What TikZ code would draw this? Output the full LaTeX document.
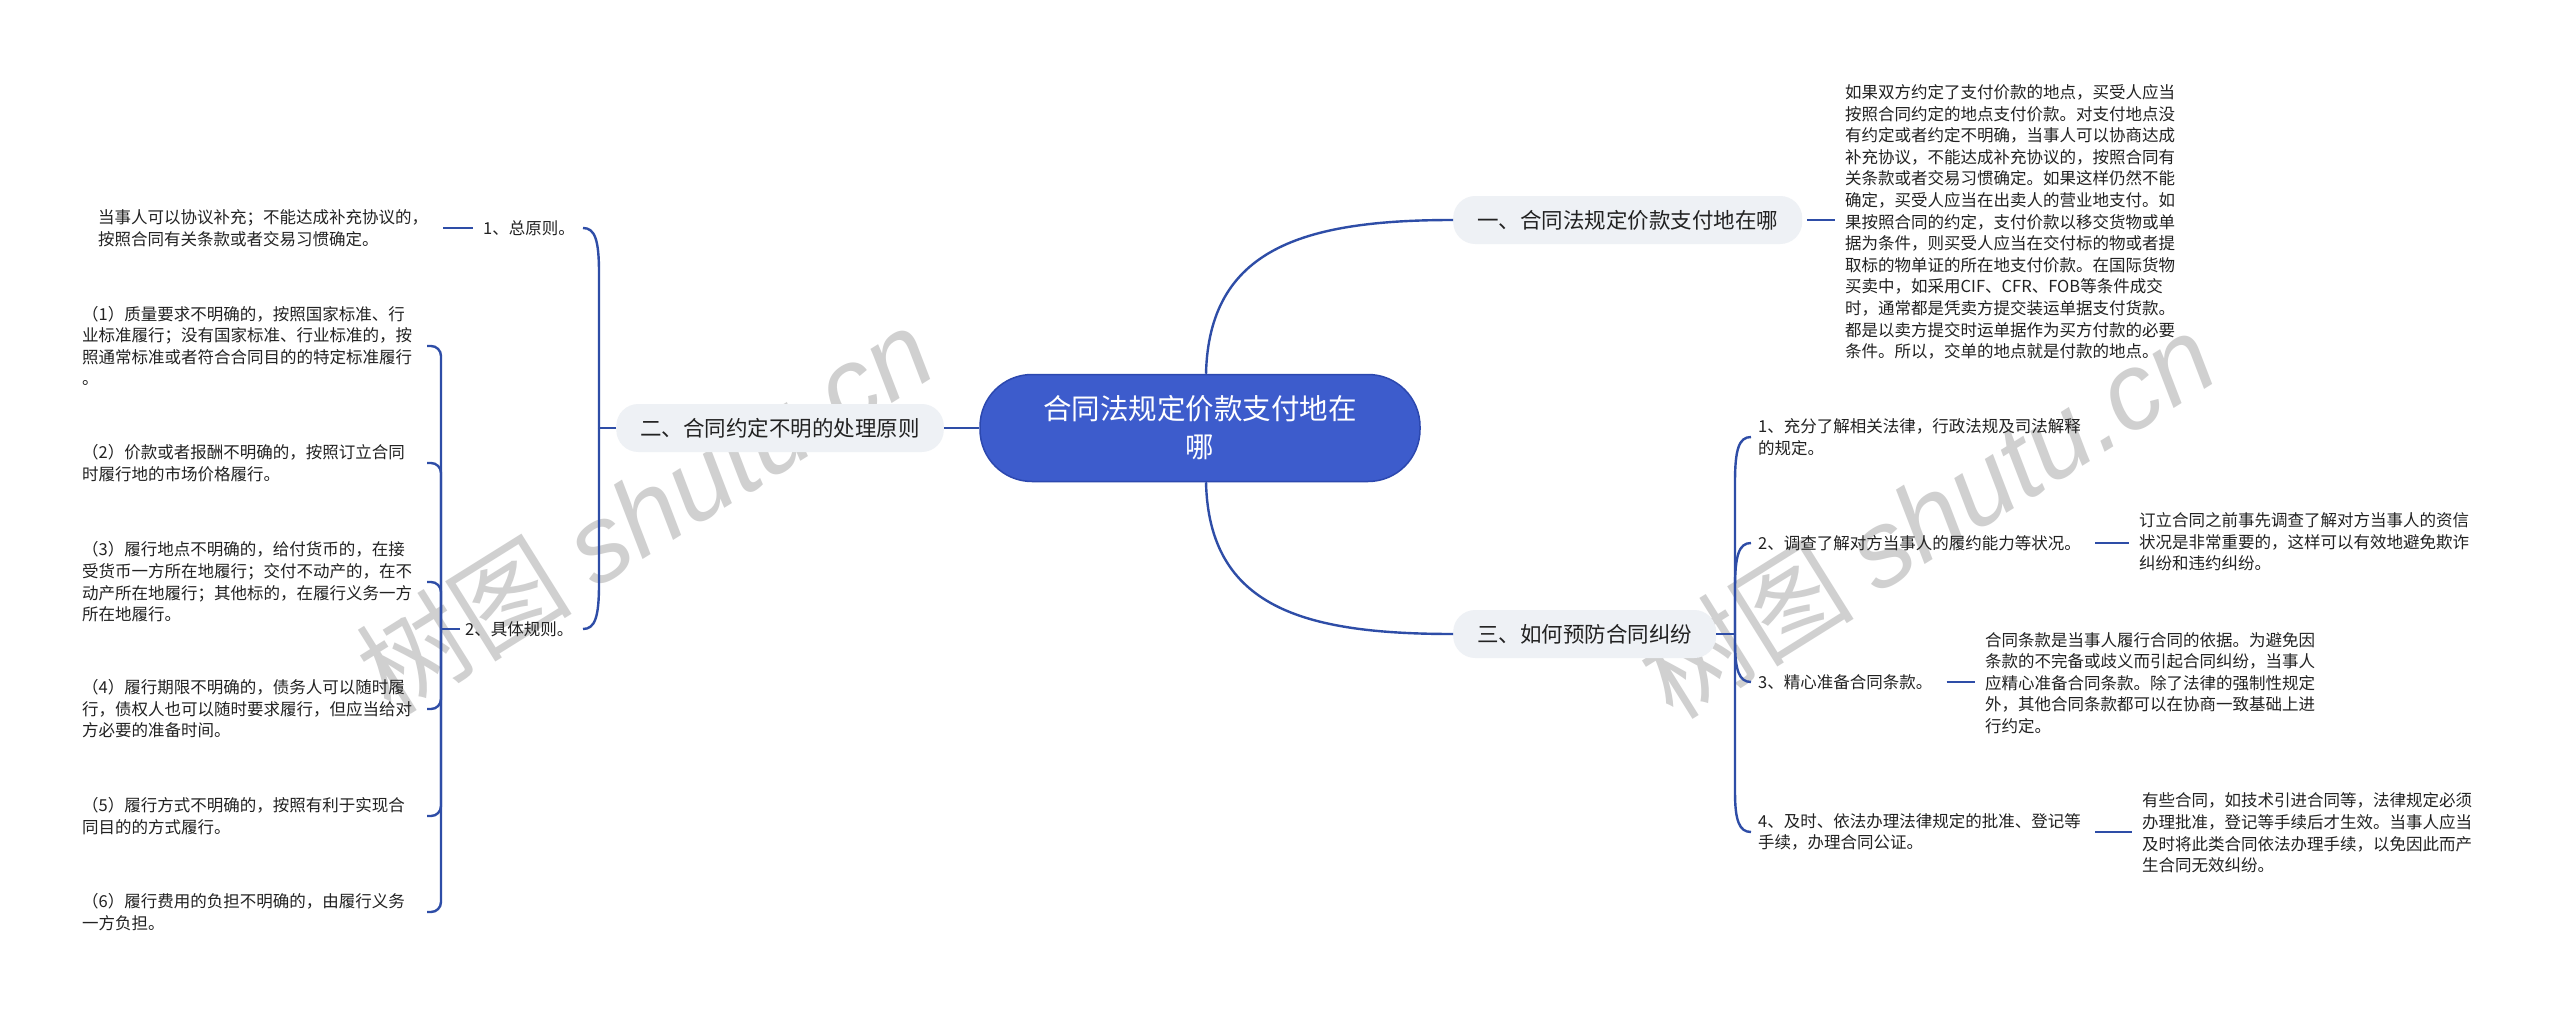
\documentclass[tikz,border=0pt]{standalone}
\usepackage{fontspec}
\setmainfont{Noto Sans CJK SC}
\newfontfamily\wmfont{Liberation Sans}
\usetikzlibrary{calc}
\definecolor{linec}{RGB}{46,77,167}
\definecolor{rootc}{RGB}{61,92,204}
\definecolor{rootd}{RGB}{44,72,175}
\definecolor{boxc}{RGB}{238,241,245}
\definecolor{txt}{RGB}{34,34,34}
\definecolor{wmc}{RGB}{200,200,200}
\begin{document}
\begin{tikzpicture}[x=1pt,y=-1pt,
  small/.style={font=\fontsize{16.5}{21.6}\selectfont, align=left, inner sep=0pt, text=txt},
  branch/.style={fill=boxc, rounded corners=22pt, inner xsep=24pt, inner ysep=0pt, minimum height=48pt, font=\fontsize{21.5}{26}\selectfont, text=txt},
  root/.style={fill=rootc, draw=rootd, line width=1.5pt, rounded corners=52pt, minimum width=440pt, minimum height=107pt, font=\fontsize{28.5}{38}\selectfont, text=white, align=center},
  conn/.style={draw=linec, line width=2.4pt},
  wm/.style={text=wmc, opacity=0.85, rotate=32, font=\fontsize{108}{116}\selectfont, inner sep=0pt}]
\useasboundingbox (0,0) rectangle (2560,1014);
\fill[white] (0,0) rectangle (2560,1014);

% watermarks
\node[wm] (W1) at (645,510) {树图 {\wmfont\itshape shutu.cn}};
\node[wm] (W2) at (1927,515) {树图 {\wmfont\itshape shutu.cn}};

% root and branches
\node[root] (C) at (1200,428) {合同法规定价款支付地在\\哪};
\node[branch, anchor=west] (B1) at (1453,220) {一、合同法规定价款支付地在哪};
\node[branch, anchor=east] (B2) at (944,428) {二、合同约定不明的处理原则};
\node[branch, anchor=west] (B3) at (1453,634) {三、如何预防合同纠纷};

% branch one detail
\node[small, anchor=west] (D1) at (1845,222) {如果双方约定了支付价款的地点，买受人应当\\按照合同约定的地点支付价款。对支付地点没\\有约定或者约定不明确，当事人可以协商达成\\补充协议，不能达成补充协议的，按照合同有\\关条款或者交易习惯确定。如果这样仍然不能\\确定，买受人应当在出卖人的营业地支付。如\\果按照合同的约定，支付价款以移交货物或单\\据为条件，则买受人应当在交付标的物或者提\\取标的物单证的所在地支付价款。在国际货物\\买卖中，如采用CIF、CFR、FOB等条件成交\\时，通常都是凭卖方提交装运单据支付货款。\\都是以卖方提交时运单据作为买方付款的必要\\条件。所以，交单的地点就是付款的地点。};

% branch two
\node[small, anchor=west] (L1) at (483,228) {1、总原则。};
\node[small, anchor=west] (L2) at (465,629) {2、具体规则。};
\node[small, anchor=west] (T0) at (98,228) {当事人可以协议补充；不能达成补充协议的，\\按照合同有关条款或者交易习惯确定。};
\node[small, anchor=west] (K1) at (82,346) {（1）质量要求不明确的，按照国家标准、行\\业标准履行；没有国家标准、行业标准的，按\\照通常标准或者符合合同目的的特定标准履行\\。};
\node[small, anchor=west] (K2) at (82,463) {（2）价款或者报酬不明确的，按照订立合同\\时履行地的市场价格履行。};
\node[small, anchor=west] (K3) at (82,582) {（3）履行地点不明确的，给付货币的，在接\\受货币一方所在地履行；交付不动产的，在不\\动产所在地履行；其他标的，在履行义务一方\\所在地履行。};
\node[small, anchor=west] (K4) at (82,709) {（4）履行期限不明确的，债务人可以随时履\\行，债权人也可以随时要求履行，但应当给对\\方必要的准备时间。};
\node[small, anchor=west] (K5) at (82,816) {（5）履行方式不明确的，按照有利于实现合\\同目的的方式履行。};
\node[small, anchor=west] (K6) at (82,912) {（6）履行费用的负担不明确的，由履行义务\\一方负担。};

% branch three
\node[small, anchor=west] (R1) at (1758,437) {1、充分了解相关法律，行政法规及司法解释\\的规定。};
\node[small, anchor=west] (R2) at (1758,543) {2、调查了解对方当事人的履约能力等状况。};
\node[small, anchor=west] (R3) at (1758,682) {3、精心准备合同条款。};
\node[small, anchor=west] (R4) at (1758,832) {4、及时、依法办理法律规定的批准、登记等\\手续，办理合同公证。};
\node[small, anchor=west] (D2) at (2139,542) {订立合同之前事先调查了解对方当事人的资信\\状况是非常重要的，这样可以有效地避免欺诈\\纠纷和违约纠纷。};
\node[small, anchor=west] (D3) at (1985,683) {合同条款是当事人履行合同的依据。为避免因\\条款的不完备或歧义而引起合同纠纷，当事人\\应精心准备合同条款。除了法律的强制性规定\\外，其他合同条款都可以在协商一致基础上进\\行约定。};
\node[small, anchor=west] (D4) at (2142,833) {有些合同，如技术引进合同等，法律规定必须\\办理批准，登记等手续后才生效。当事人应当\\及时将此类合同依法办理手续，以免因此而产\\生合同无效纠纷。};

% junctions
\coordinate (J2) at (599,428);
\coordinate (J3) at (441,629);
\coordinate (J4) at (1735,634);

% root connectors
\draw[conn] ($(C.north)+(6,0)$) .. controls ($(C.north)+(9,-125)$) and ($(B1.west)+(-150,0)$) .. (B1.west);
\draw[conn] ($(C.south)+(6,0)$) .. controls ($(C.south)+(9,125)$) and ($(B3.west)+(-150,0)$) .. (B3.west);
\draw[conn] (C.west) -- (B2.east);

% branch one
\draw[conn, shorten <=5pt, shorten >=10pt] (B1.east) -- (B1.east -| D1.west);

% branch two bracket
\draw[conn] (B2.west) -- (J2);
\draw[conn] (J2) -- ($(J2|-L1)+(0,45)$) .. controls ($(J2|-L1)+(0,12)$) and ($(J2|-L1)+(-4,0)$) .. ($(J2|-L1)+(-16,0)$);
\draw[conn] (J2) -- ($(J2|-L2)+(0,-45)$) .. controls ($(J2|-L2)+(0,-12)$) and ($(J2|-L2)+(-4,0)$) .. ($(J2|-L2)+(-16,0)$);
\draw[conn, shorten <=15pt, shorten >=10pt] (T0.east) -- (T0.east -| L1.west);

% specific rules bracket
\draw[conn, shorten <=5pt] (L2.west) -- (J3);
\foreach \k in {K1,K2,K3,K4,K5,K6}{
  \draw[conn, rounded corners=10pt] (J3) |- ($(J3|-\k)+(-14,0)$);
}

% branch three bracket
\draw[conn] (B3.east) -- (J4);
\foreach \r in {R1,R2}{
  \draw[conn] (J4) -- ($(J4|-\r)+(0,45)$) .. controls ($(J4|-\r)+(0,12)$) and ($(J4|-\r)+(4,0)$) .. ($(J4|-\r)+(16,0)$);
}
\foreach \r in {R3,R4}{
  \draw[conn] (J4) -- ($(J4|-\r)+(0,-40)$) .. controls ($(J4|-\r)+(0,-12)$) and ($(J4|-\r)+(4,0)$) .. ($(J4|-\r)+(16,0)$);
}
\draw[conn, shorten <=14pt, shorten >=10pt] (R2.east) -- (R2.east -| D2.west);
\draw[conn, shorten <=14pt, shorten >=10pt] (R3.east) -- (R3.east -| D3.west);
\draw[conn, shorten <=14pt, shorten >=10pt] (R4.east) -- (R4.east -| D4.west);
\end{tikzpicture}
\end{document}
